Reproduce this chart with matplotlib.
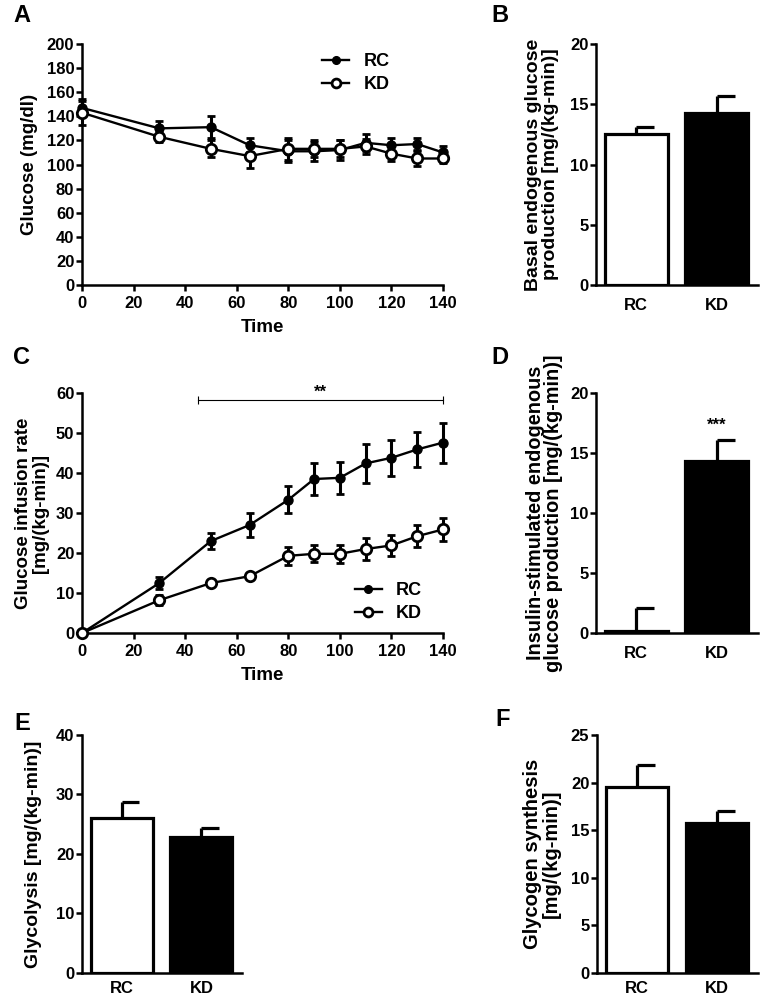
import numpy as np
import matplotlib
matplotlib.use("Agg")
import matplotlib.pyplot as plt

plt.rcParams['font.family'] = ['Liberation Sans', 'DejaVu Sans']
plt.rcParams['font.weight'] = 'bold'
plt.rcParams['axes.labelweight'] = 'bold'

# panel A - glucose during clamp
time = [0, 30, 50, 65, 80, 90, 100, 110, 120, 130, 140]
glu_rc = [147, 130, 131, 116, 111, 111, 112, 118, 116, 117, 110]
glu_rc_err = [7, 6, 9, 6, 9, 8, 8, 7, 6, 5, 5]
glu_kd = [143, 123, 113, 107, 113, 113, 113, 115, 109, 105, 105]
glu_kd_err = [10, 4, 7, 10, 9, 7, 7, 6, 6, 6, 4]

# panel C - glucose infusion rate
gir_rc = [0, 12.5, 23, 27, 33.3, 38.5, 38.8, 42.4, 43.8, 45.9, 47.6]
gir_rc_err = [0.3, 1.4, 2.1, 3.0, 3.4, 4.0, 4.0, 4.8, 4.5, 4.4, 5.0]
gir_kd = [0, 8.2, 12.5, 14.2, 19.3, 19.8, 19.8, 21.0, 21.9, 24.2, 25.9]
gir_kd_err = [0.3, 1.3, 0.4, 0.4, 2.3, 2.1, 2.3, 2.7, 2.6, 2.7, 2.8]

groups = ["RC", "KD"]
basal_egp = [12.5, 14.25]
basal_egp_err = [0.6, 1.45]
clamp_egp = [0.15, 14.3]
clamp_egp_err = [1.95, 1.8]
glycolysis = [26.05, 22.8]
glycolysis_err = [2.65, 1.5]
glycogen = [19.5, 15.7]
glycogen_err = [2.3, 1.3]

LW = 1.8
TICK = 12
LAB = 13.5

fig = plt.figure(figsize=(7.6, 9.98), dpi=100)


def style_axes(ax):
    for s in ["top", "right"]:
        ax.spines[s].set_visible(False)
    for s in ["left", "bottom"]:
        ax.spines[s].set_linewidth(LW)
    ax.tick_params(width=LW, length=4, labelsize=TICK)
    ax.tick_params(axis="y", pad=1.5)
    ax.tick_params(axis="x", pad=4)


def line_panel(ax, rc, rc_err, kd, kd_err):
    c1 = ax.errorbar(time, rc, yerr=rc_err, color="black", lw=1.7, marker="o",
                     ms=6.5, mfc="black", mec="black", capsize=3, capthick=2,
                     elinewidth=2.2, clip_on=False, zorder=3)
    c2 = ax.errorbar(time, kd, yerr=kd_err, color="black", lw=1.7, marker="o",
                     ms=7.5, mfc="white", mec="black", mew=2, capsize=3,
                     capthick=2, elinewidth=2.2, clip_on=False, zorder=4)
    ax.set_xlim(0, 140)
    ax.set_xticks(range(0, 141, 20))
    ax.set_xlabel("Time", fontsize=LAB, labelpad=6)
    style_axes(ax)
    return c1[0], c2[0]


def bar_panel(ax, vals, errs, xpad=9):
    x = np.arange(len(groups))
    ax.bar(x, vals, width=0.78, color=["white", "black"], edgecolor="black",
           linewidth=2.3, zorder=2)
    ax.vlines(x, vals, np.array(vals) + np.array(errs), color="black",
              lw=2.3, zorder=3)
    ax.hlines(np.array(vals) + np.array(errs), x, x + 0.22, color="black",
              lw=2.3, zorder=3)
    ax.set_xlim(-0.5, 1.51)
    ax.set_xticks(x)
    ax.set_xticklabels(groups)
    style_axes(ax)
    ax.tick_params(axis="x", length=0, pad=xpad, labelsize=TICK)


def add_legend(ax, handles, anchor):
    ax.legend(handles, ["RC", "KD"], frameon=False, loc="upper left",
              bbox_to_anchor=anchor, fontsize=13, handlelength=1.5,
              handletextpad=0.8, labelspacing=0.35, markerscale=0.85)


# A
axA = fig.add_axes([0.1079, 0.7144, 0.475, 0.2415])
hA = line_panel(axA, glu_rc, glu_rc_err, glu_kd, glu_kd_err)
axA.set_ylim(0, 200)
axA.set_yticks(range(0, 201, 20))
axA.set_ylabel("Glucose (mg/dl)", fontsize=LAB, labelpad=6)
add_legend(axA, hA, (0.62, 1.03))

# B
axB = fig.add_axes([0.7842, 0.7144, 0.213, 0.2415])
bar_panel(axB, basal_egp, basal_egp_err)
axB.set_ylim(0, 20)
axB.set_yticks(range(0, 21, 5))
axB.set_ylabel("Basal endogenous glucose\nproduction [mg/(kg-min)]",
               fontsize=14, labelpad=8, linespacing=1.0)

# C
axC = fig.add_axes([0.1079, 0.3657, 0.475, 0.2405])
hC = line_panel(axC, gir_rc, gir_rc_err, gir_kd, gir_kd_err)
axC.set_ylim(0, 60)
axC.set_yticks(range(0, 61, 10))
axC.set_ylabel("Glucose infusion rate\n[mg/(kg-min)]", fontsize=LAB,
               labelpad=5, linespacing=1.0)
add_legend(axC, hC, (0.71, 0.28))
axC.plot([45, 140], [58.2, 58.2], color="black", lw=0.8, clip_on=False)
axC.vlines([45, 140], 57.2, 59.2, color="black", lw=0.8, clip_on=False)
axC.text(92.5, 58.4, "**", ha="center", va="bottom", fontsize=12)

# D
axD = fig.add_axes([0.7842, 0.3657, 0.213, 0.2405])
bar_panel(axD, clamp_egp, clamp_egp_err)
axD.set_ylim(0, 20)
axD.set_yticks(range(0, 21, 5))
axD.set_ylabel("Insulin-stimulated endogenous\nglucose production [mg/(kg-min)]",
               fontsize=14.3, labelpad=5, linespacing=0.95)
axD.text(1, clamp_egp[1] + clamp_egp_err[1] + 0.6, "***", ha="center",
         va="bottom", fontsize=12)

# E
axE = fig.add_axes([0.1079, 0.0251, 0.2105, 0.2385])
bar_panel(axE, glycolysis, glycolysis_err, xpad=6)
axE.set_ylim(0, 40)
axE.set_yticks(range(0, 41, 10))
axE.set_ylabel("Glycolysis [mg/(kg-min)]", fontsize=14, labelpad=10)

# F
axF = fig.add_axes([0.7855, 0.0251, 0.212, 0.2385])
bar_panel(axF, glycogen, glycogen_err, xpad=6)
axF.set_ylim(0, 25)
axF.set_yticks(range(0, 26, 5))
axF.set_ylabel("Glycogen synthesis\n[mg/(kg-min)]", fontsize=14.5,
               labelpad=7, linespacing=1.0)

# panel letters
for lab, x, y in [("A", 22, 15), ("B", 500, 15), ("C", 22, 357),
                  ("D", 500, 357), ("E", 22, 724), ("F", 503, 720)]:
    fig.text(x / 760, 1 - y / 998, lab, ha="center", va="center",
             fontsize=17, fontweight="bold")

fig.savefig("out.png", dpi=100)
